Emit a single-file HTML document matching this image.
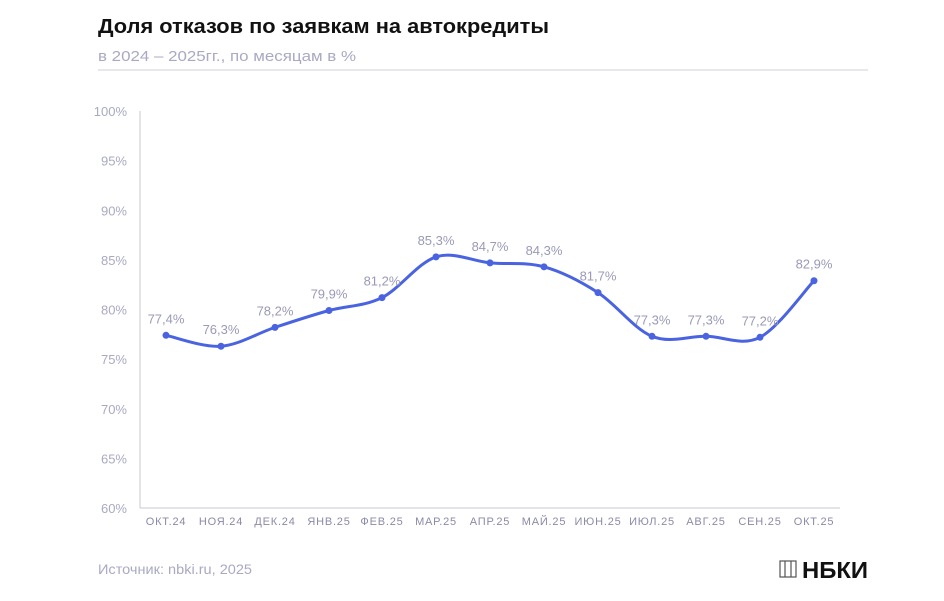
<!DOCTYPE html>
<html><head><meta charset="utf-8"><style>
body{margin:0;background:#fff;width:944px;height:596px;overflow:hidden;font-family:"Liberation Sans",sans-serif}
</style></head><body>
<svg width="944" height="596" xmlns="http://www.w3.org/2000/svg" font-family="Liberation Sans, sans-serif">
<text x="98" y="33" font-size="20" font-weight="bold" fill="#111" textLength="451" lengthAdjust="spacingAndGlyphs">Доля отказов по заявкам на автокредиты</text>
<text x="98" y="61" font-size="15" fill="#a9a9c4" textLength="258" lengthAdjust="spacingAndGlyphs">в 2024 – 2025гг., по месяцам в %</text>
<line x1="98" y1="70" x2="868" y2="70" stroke="#cfcfd8" stroke-width="1"/>
<g font-size="13" fill="#a9a9c4" text-anchor="end" id="yl"></g>
<line x1="140" y1="111" x2="140" y2="508" stroke="#c8c8d0"/>
<line x1="140" y1="508" x2="840" y2="508" stroke="#c8c8d0"/>
<g font-size="11" fill="#8a8aa8" text-anchor="middle" letter-spacing="0.8" id="xl"></g>
<path id="curve" fill="none" stroke="#4a63e0" stroke-width="3"/>
<g id="pts" fill="#4a63e0"></g>
<g id="vl" font-size="13" fill="#9a9ab8" text-anchor="middle"></g>
<text x="98" y="574" font-size="14" fill="#a9a9c4" textLength="154" lengthAdjust="spacingAndGlyphs">Источник: nbki.ru, 2025</text>
<g stroke="#555" stroke-width="1.2" fill="none">
<rect x="780" y="561" width="16" height="16"/>
<line x1="785" y1="561" x2="785" y2="577"/><line x1="791" y1="561" x2="791" y2="577"/>
</g>
<text x="802" y="578" font-size="23" font-weight="bold" fill="#111" textLength="66" lengthAdjust="spacingAndGlyphs">НБКИ</text>
</svg>
<script>
var ns="http://www.w3.org/2000/svg";
function Y(v){return 508-(v-60)*9.925}
var yl=document.getElementById('yl');
for(var v=60;v<=100;v+=5){var t=document.createElementNS(ns,'text');t.setAttribute('x',127);t.setAttribute('y',Y(v)+5);t.textContent=v+'%';yl.appendChild(t);}
var labs=['ОКТ.24','НОЯ.24','ДЕК.24','ЯНВ.25','ФЕВ.25','МАР.25','АПР.25','МАЙ.25','ИЮН.25','ИЮЛ.25','АВГ.25','СЕН.25','ОКТ.25'];
var vals=[77.4,76.3,78.2,79.9,81.2,85.3,84.7,84.3,81.7,77.3,77.3,77.2,82.9];
var xs=[166,221,275,329,382,436,490,544,598,652,706,760,814];
var xl=document.getElementById('xl'),pts=document.getElementById('pts'),vl=document.getElementById('vl');
var P=[];
for(var i=0;i<13;i++){P.push([xs[i],Y(vals[i])]);
var t=document.createElementNS(ns,'text');t.setAttribute('x',xs[i]);t.setAttribute('y',525);t.textContent=labs[i];xl.appendChild(t);
var c=document.createElementNS(ns,'circle');c.setAttribute('cx',xs[i]);c.setAttribute('cy',Y(vals[i]));c.setAttribute('r',3.5);pts.appendChild(c);
var t2=document.createElementNS(ns,'text');t2.setAttribute('x',xs[i]);t2.setAttribute('y',Y(vals[i])-12);t2.textContent=String(vals[i]).replace('.',',')+'%';vl.appendChild(t2);}
var d='M'+P[0][0]+','+P[0][1];
for(var i=0;i<12;i++){var p0=P[i-1]||P[i],p1=P[i],p2=P[i+1],p3=P[i+2]||P[i+1];var k=6;
d+=' C'+(p1[0]+(p2[0]-p0[0])/k)+','+(p1[1]+(p2[1]-p0[1])/k)+' '+(p2[0]-(p3[0]-p1[0])/k)+','+(p2[1]-(p3[1]-p1[1])/k)+' '+p2[0]+','+p2[1];}
document.getElementById('curve').setAttribute('d',d);
</script>
</body></html>
